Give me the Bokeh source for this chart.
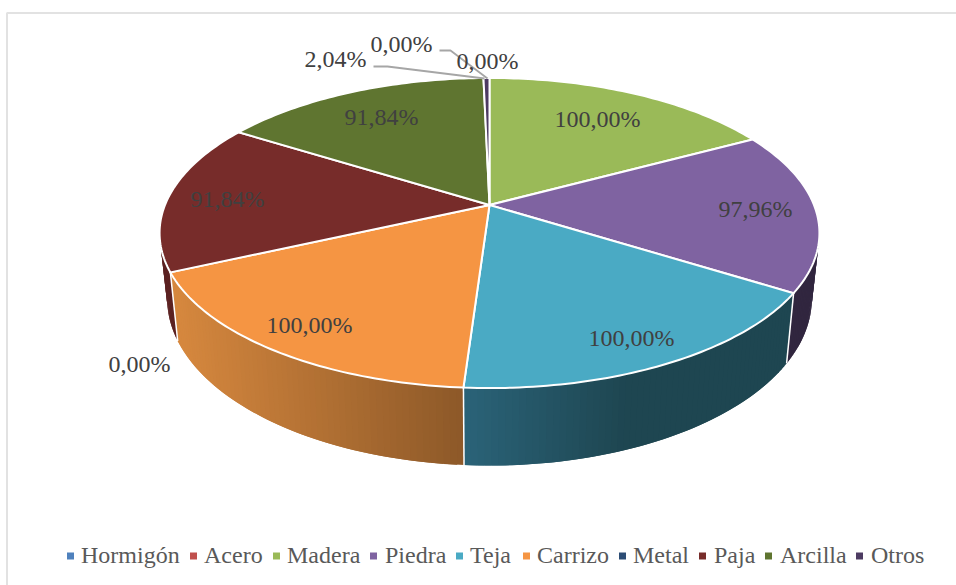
import math
from bokeh.plotting import figure
from bokeh.models import Range1d, ColumnDataSource
from bokeh.core.properties import value
from bokeh.embed import file_html
from bokeh.resources import INLINE

categories = ["Hormigón", "Acero", "Madera", "Piedra", "Teja", "Carrizo", "Metal", "Paja", "Arcilla", "Otros"]
values = [0.00, 0.00, 100.00, 97.96, 100.00, 100.00, 0.00, 91.84, 91.84, 2.04]
pct_labels = ["0,00%", "0,00%", "100,00%", "97,96%", "100,00%", "100,00%", "0,00%", "91,84%", "91,84%", "2,04%"]
colors = ["#4f81bd", "#c0504d", "#9aba58", "#7f63a1", "#4aaac4", "#f59543", "#2c4d75", "#772c2a", "#5f7530", "#4d3b62"]
label_x = [487, 401, 597, 755, 631, 309, 139, 227, 381, 335]
label_y = [60, 43, 118, 208, 337, 324, 363, 198, 116, 58]
legend_swatch_x = [70, 193, 276, 373, 459, 526, 622, 702, 768, 859]
legend_text_x = [80.5, 203.5, 286.5, 384.5, 469.5, 536.5, 632.5, 713.5, 779.5, 870.5]
side_grad = {
    "Piedra": ("#31263f", "#31263f", 780, 820),
    "Teja": ("#2a6277", "#1e4651", 465, 620),
    "Carrizo": ("#d5873e", "#8c5828", 180, 463),
    "Paja": ("#5c2222", "#5c2222", 160, 180),
}

CX, CY, A, B, K, DEPTH, SHRINK = 489, 204.5, 324.5, 150, 0.1807, 63.5, 0.977


def top_pt(theta):
    u, v = math.sin(math.radians(theta)), math.cos(math.radians(theta))
    den = 1 + K * v
    return CX + A * u / den, CY - B * v / den


def bot_pt(theta):
    x, y = top_pt(theta)
    v = math.cos(math.radians(theta))
    return CX + SHRINK * (x - CX), y + DEPTH / (1 + K * v)


def hex2rgb(h):
    return [int(h[i:i + 2], 16) for i in (1, 3, 5)]


def grad(stops, x):
    c0, c1, x0, x1 = stops
    t = min(1, max(0, (x - x0) / (x1 - x0)))
    a, b = hex2rgb(c0), hex2rgb(c1)
    return "#%02x%02x%02x" % tuple(round(a[i] + (b[i] - a[i]) * t) for i in range(3))


p = figure(width=956, height=585, x_range=Range1d(0, 956), y_range=Range1d(585, 0),
           toolbar_location=None, output_backend="svg", min_border=0,
           outline_line_color=None, background_fill_color="white")
p.axis.visible = False
p.grid.visible = False

# chart border
p.line([6.5, 6.5, 956], [585, 12.5, 12.5], line_color="#e2e2e2", line_width=2)

total = sum(values)
spans = []
start = 0.0
for name, val in zip(categories, values):
    end = start + val / total * 360
    spans.append((name, start, end))
    start = end

# side walls as overlapping gradient strips
sx, sy, sc = [], [], []
for name, a0, a1 in spans:
    if name not in side_grad:
        continue
    th0, th1 = a0, a1
    if name == "Piedra":
        th0 = max(a0, 76)
    if name == "Paja":
        th1 = min(a1, 284)
    n = max(2, int((th1 - th0) / 1.0))
    for i in range(n):
        t0 = th0 + (th1 - th0) * i / n
        t1 = th0 + (th1 - th0) * min(n, i + 2) / n
        x0, y0 = top_pt(t0)
        x1, y1 = top_pt(t1)
        x2, y2 = bot_pt(t1)
        x3, y3 = bot_pt(t0)
        sx.append([x0, x1, x2, x3])
        sy.append([y0, y1, y2, y3])
        sc.append(grad(side_grad[name], (x0 + x1 + x2 + x3) / 4))
p.patches("x", "y", source=ColumnDataSource(dict(x=sx, y=sy, c=sc)), fill_color="c", line_color=None)

# white edges between the walls
for name, a0, a1 in spans:
    if name in ("Piedra", "Teja", "Carrizo"):
        x0, y0 = top_pt(a1)
        x1, y1 = bot_pt(a1)
        p.line([x0, x1], [y0, y1], line_color="white", line_width=1.5)

# top faces
for (name, a0, a1), col in zip(spans, colors):
    if a1 <= a0:
        continue
    n = max(2, int(a1 - a0))
    pts = [top_pt(a0 + (a1 - a0) * i / n) for i in range(n + 1)]
    xs = [CX] + [q[0] for q in pts]
    ys = [CY] + [q[1] for q in pts]
    p.patch(xs, ys, fill_color=col, line_color="white", line_width=2, line_join="round")

# leader lines
p.line([373, 387, 484], [66, 66, 78], line_color="#a6a6a6", line_width=1.8)
p.line([439, 450, 487], [50, 50, 78], line_color="#a6a6a6", line_width=1.8)

# percentage labels
p.text(label_x, label_y, text=pct_labels, text_font=value("Liberation Serif"), text_font_size="24px",
       text_color="#404040", text_align="center", text_baseline="middle")

# legend
p.scatter(legend_swatch_x, [555.5] * len(categories), marker="square", size=7, fill_color=colors, line_color=None)
p.text(legend_text_x, [554.5] * len(categories), text=categories, text_font=value("Liberation Serif"),
       text_font_size="24px", text_color="#595959", text_align="left", text_baseline="middle")

open("out.html", "w").write(file_html(p, INLINE))
